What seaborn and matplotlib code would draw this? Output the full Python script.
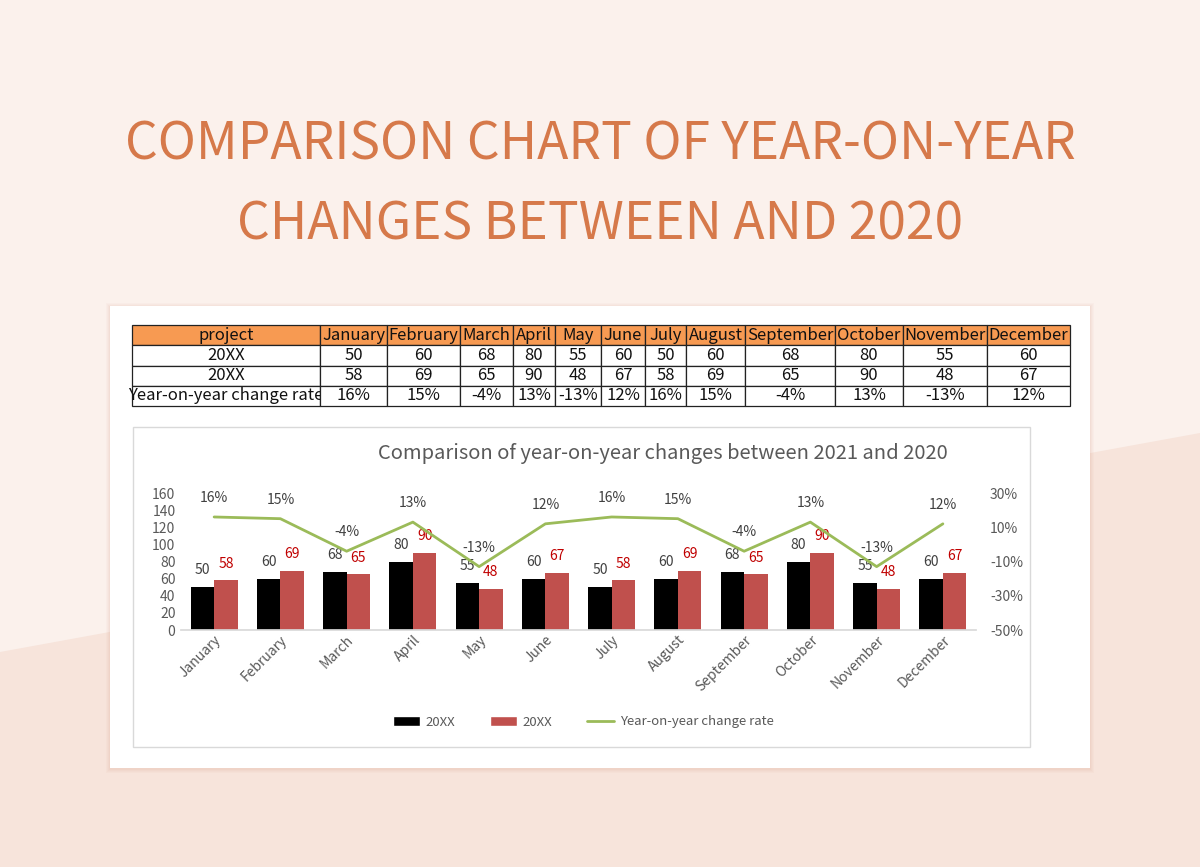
import matplotlib.pyplot as plt
import seaborn as sns
import pandas as pd
import numpy as np
from matplotlib.patches import Rectangle, Polygon, Patch
from matplotlib.lines import Line2D

months = ['January', 'February', 'March', 'April', 'May', 'June', 'July',
          'August', 'September', 'October', 'November', 'December']
prev_year = [50, 60, 68, 80, 55, 60, 50, 60, 68, 80, 55, 60]
this_year = [58, 69, 65, 90, 48, 67, 58, 69, 65, 90, 48, 67]
yoy_rate = [16, 15, -4, 13, -13, 12, 16, 15, -4, 13, -13, 12]
left_ticks = [0, 20, 40, 60, 80, 100, 120, 140, 160]
right_ticks = [-50, -30, -10, 10, 30]

W, H = 1200, 867


def fx(px):
	return px / W


def fy(py):
	return 1 - py / H


def main():
	sns.set_theme(style='white')
	plt.rcParams['font.family'] = ['Noto Sans CJK SC', 'DejaVu Sans']

	fig = plt.figure(figsize=(12, 8.67), dpi=100)
	fig.patch.set_facecolor('#fbf1ec')

	# background split
	fig.patches.append(Polygon([(0, fy(652)), (1, fy(433)), (1, 0), (0, 0)],
		closed=True, transform=fig.transFigure, facecolor='#f7e4db', edgecolor='none', zorder=0))

	# big title
	title_color = '#d6794a'
	fig.text(0.5, fy(145), 'COMPARISON CHART OF YEAR-ON-YEAR', ha='center', va='center',
		fontsize=37, fontweight='light', color=title_color)
	fig.text(0.5, fy(225), 'CHANGES BETWEEN AND 2020', ha='center', va='center',
		fontsize=37, fontweight='light', color=title_color)

	# white card with soft shadow
	for i, a in enumerate([0.05, 0.05, 0.06, 0.08]):
		d = 4 - i
		fig.patches.append(Rectangle((fx(110 - d), fy(768 + d + 1)), fx(980 + 2 * d), (462 + 2 * d) / H,
			transform=fig.transFigure, facecolor='#d8a08a', alpha=a, edgecolor='none', zorder=1))
	fig.patches.append(Rectangle((fx(110), fy(768)), fx(980), 462 / H,
		transform=fig.transFigure, facecolor='white', edgecolor='none', zorder=1))

	# table
	col_px = [132, 320, 387, 460, 513, 555, 601, 645, 686, 745, 835, 903, 987, 1070]
	widths = np.diff(col_px)
	ax_t = fig.add_axes([fx(132), fy(406), fx(1070 - 132), (406 - 325) / H])
	ax_t.set_zorder(3)
	ax_t.axis('off')
	rows = [['20XX'] + [str(v) for v in prev_year],
		['20XX'] + [str(v) for v in this_year],
		['Year-on-year change rate'] + [f'{v}%' for v in yoy_rate]]
	tbl = ax_t.table(cellText=rows, colLabels=['project'] + months,
		colWidths=list(widths / widths.sum()), cellLoc='center', bbox=[0, 0, 1, 1])
	tbl.auto_set_font_size(False)
	tbl.set_fontsize(12)
	for (r, c), cell in tbl.get_celld().items():
		cell.set_edgecolor('#222222')
		cell.set_linewidth(0.9)
		cell.get_text().set_color('#111111')
		if r == 0:
			cell.set_facecolor('#f79a52')

	# chart frame
	fig.patches.append(Rectangle((fx(133), fy(747)), fx(1030 - 133), (747 - 427) / H,
		transform=fig.transFigure, facecolor='white', edgecolor='#d9d9d9', linewidth=1, zorder=2))
	fig.text(fx(663), fy(453), 'Comparison of year-on-year changes between 2021 and 2020',
		ha='center', va='center', fontsize=14.5, color='#595959', zorder=3)

	df = pd.DataFrame({
		'month': months * 2,
		'value': prev_year + this_year,
		'series': ['prev'] * 12 + ['curr'] * 12,
	})

	ax = fig.add_axes([fx(181), fy(630), fx(976 - 181), (630 - 493) / H])
	ax.set_zorder(4)
	ax.patch.set_alpha(0)
	sns.barplot(data=df, x='month', y='value', hue='series', order=months,
		palette=['#000000', '#c0504d'], width=0.71, saturation=1, linewidth=0,
		legend=False, ax=ax)
	ax.set_ylim(0, 160)
	ax.set_xlim(-0.5, 11.5)
	ax.set_yticks(left_ticks)
	ax.set_xlabel('')
	ax.set_ylabel('')
	ax.tick_params(axis='y', labelsize=10, colors='#595959', length=0, pad=4)
	ax.tick_params(axis='x', labelsize=10, colors='#595959', length=0, pad=2)
	plt.setp(ax.get_xticklabels(), rotation=45, ha='right', rotation_mode='anchor')
	for s in ['top', 'right', 'left']:
		ax.spines[s].set_visible(False)
	ax.spines['bottom'].set_color('#d9d9d9')
	ax.bar_label(ax.containers[0], padding=7, fontsize=10, color='#404040')
	ax.bar_label(ax.containers[1], padding=7, fontsize=10, color='#c00000')

	ax2 = ax.twinx()
	sns.lineplot(x=np.arange(12), y=yoy_rate, color='#9bbb59', linewidth=2, ax=ax2)
	ax2.set_ylim(-50, 30)
	ax2.set_yticks(right_ticks)
	ax2.set_yticklabels([f'{t}%' for t in right_ticks])
	ax2.tick_params(axis='y', labelsize=10, colors='#595959', length=0, pad=10)
	for s in ax2.spines.values():
		s.set_visible(False)
	for i, v in enumerate(yoy_rate):
		ax2.annotate(f'{v}%', (i, v), xytext=(0, 19), textcoords='offset pixels',
			ha='center', va='center', fontsize=10, color='#404040')
	ax2.grid(False)
	ax.grid(False)

	handles = [Patch(facecolor='#000000'), Patch(facecolor='#c0504d'),
		Line2D([0], [0], color='#9bbb59', linewidth=2)]
	leg = fig.legend(handles, ['20XX', '20XX', 'Year-on-year change rate'], loc='center',
		bbox_to_anchor=(fx(583), fy(722)), ncol=3, frameon=False, fontsize=9.5,
		handlelength=2.1, handleheight=0.8, columnspacing=2.6, handletextpad=0.4)
	for t in leg.get_texts():
		t.set_color('#595959')
	leg.set_zorder(5)

	fig.savefig('out.png', dpi=100)


if __name__ == '__main__':
	main()
